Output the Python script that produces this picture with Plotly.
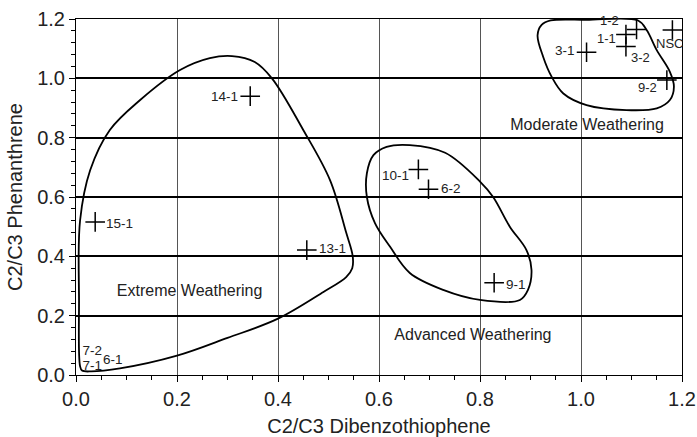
import plotly.graph_objects as go

# Sample points (C2/C3 dibenzothiophene, C2/C3 phenanthrene)
sample_labels = ["15-1", "13-1", "14-1", "10-1", "6-2", "9-1", "3-1", "1-1", "3-2", "1-2", "NSC", "9-2"]
sample_x = [0.038, 0.457, 0.345, 0.678, 0.698, 0.828, 1.011, 1.089, 1.089, 1.110, 1.181, 1.170]
sample_y = [0.516, 0.421, 0.940, 0.693, 0.626, 0.311, 1.088, 1.148, 1.107, 1.165, 1.163, 0.994]

# Samples clustered at the origin (labels only)
origin_labels = ["7-2", "7-1", "6-1"]
origin_x = [0.032, 0.032, 0.073]
origin_y = [0.078, 0.027, 0.047]

# Weathering envelopes
extreme_x = [0.008, 0.006, 0.008, 0.028, 0.067, 0.127, 0.206, 0.265, 0.309, 0.354, 0.388, 0.45, 0.503,
             0.535, 0.548, 0.547, 0.535, 0.49, 0.4, 0.3, 0.2, 0.087, 0.03, 0.012, 0.008]
extreme_y = [0.03, 0.25, 0.52, 0.69, 0.826, 0.927, 1.028, 1.068, 1.075, 1.055, 1.0, 0.826, 0.657,
             0.48, 0.40, 0.36, 0.33, 0.28, 0.19, 0.125, 0.065, 0.022, 0.012, 0.015, 0.03]

advanced_x = [0.615, 0.661, 0.731, 0.8, 0.826, 0.859, 0.892, 0.902, 0.895, 0.879, 0.8, 0.727, 0.661,
              0.622, 0.592, 0.576, 0.576, 0.589, 0.615]
advanced_y = [0.769, 0.775, 0.749, 0.652, 0.6, 0.5, 0.421, 0.354, 0.287, 0.253, 0.253, 0.287, 0.344,
              0.432, 0.512, 0.6, 0.68, 0.741, 0.769]

moderate_x = [0.922, 0.94, 1.011, 1.113, 1.13, 1.15, 1.176, 1.184, 1.176, 1.15, 1.09, 1.011, 0.965,
              0.942, 0.925, 0.914, 0.922]
moderate_y = [1.18, 1.195, 1.197, 1.195, 1.163, 1.095, 1.022, 0.972, 0.927, 0.899, 0.893, 0.91, 0.949,
              1.005, 1.073, 1.145, 1.18]

region_labels = ["Moderate Weathering", "Extreme Weathering", "Advanced Weathering"]
region_x = [1.012, 0.225, 0.786]
region_y = [0.839, 0.28, 0.131]

FONT = "Liberation Sans, Arial, Helvetica, sans-serif"
TXT = "#222"

# label placement (style): anchor and pixel offsets from each point
lab_anchor = ["left", "left", "right", "right", "left", "left", "right", "right", "left", "right", "center", "right"]
lab_dx = [9, 10, -10, -7, 11, 10, -10, -8, 3, -16, -3, -8]
lab_dy = [-2, 2, 0, -6, 1, -2, 2, -4, -11, 9, -14, -7]
lab_size = [13.5, 13.5, 13.5, 13.5, 13.5, 13.5, 13.5, 13, 13, 13, 13, 13]

fig = go.Figure()

for ex, ey in [(extreme_x, extreme_y), (advanced_x, advanced_y), (moderate_x, moderate_y)]:
    fig.add_trace(go.Scatter(x=ex, y=ey, mode="lines",
                             line=dict(color="black", width=1.8, shape="spline", smoothing=1.0),
                             hoverinfo="skip", showlegend=False))

fig.add_trace(go.Scatter(
    x=sample_x, y=sample_y, mode="markers",
    marker=dict(symbol="cross-thin", size=14, line=dict(color="black", width=1.5), color="black"),
    showlegend=False))

for lab, x, y, a, dx, dy, s in zip(sample_labels, sample_x, sample_y, lab_anchor, lab_dx, lab_dy, lab_size):
    fig.add_annotation(x=x, y=y, text=lab, showarrow=False, xanchor=a, yanchor="middle",
                       xshift=dx, yshift=dy, font=dict(family=FONT, size=s, color=TXT))

fig.add_trace(go.Scatter(
    x=origin_x, y=origin_y, mode="text", text=origin_labels,
    textfont=dict(family=FONT, size=13.5, color=TXT), showlegend=False))

fig.add_trace(go.Scatter(
    x=region_x, y=region_y, mode="text", text=region_labels,
    textfont=dict(family=FONT, size=16, color=TXT), showlegend=False))

fig.update_layout(
    width=697, height=437,
    margin=dict(l=76, r=15, t=19, b=62),
    paper_bgcolor="white", plot_bgcolor="white",
    font=dict(family=FONT, color=TXT),
    showlegend=False,
)

fig.update_xaxes(
    range=[0, 1.2], tick0=0, dtick=0.2, tickformat=".1f",
    showgrid=True, gridcolor="#555", gridwidth=1,
    zeroline=False, showline=True, linecolor="black", linewidth=1, mirror=True,
    ticks="outside", ticklen=6, tickwidth=1.2, tickcolor="black",
    minor=dict(dtick=0.05, ticks="outside", ticklen=4, tickwidth=1, tickcolor="black", showgrid=False),
    tickfont=dict(size=20, family=FONT, color=TXT),
    title=dict(text="C2/C3 Dibenzothiophene", font=dict(size=20, family=FONT, color=TXT), standoff=9),
    automargin=False,
)
fig.update_yaxes(
    range=[0, 1.2], tick0=0, dtick=0.2, tickformat=".1f",
    showgrid=True, gridcolor="black", gridwidth=2,
    zeroline=False, showline=True, linecolor="black", linewidth=1, mirror=True,
    ticks="outside", ticklen=6, tickwidth=1.2, tickcolor="black",
    minor=dict(dtick=0.04, ticks="outside", ticklen=4, tickwidth=1, tickcolor="black", showgrid=False),
    tickfont=dict(size=20, family=FONT, color=TXT),
    title=dict(text="C2/C3 Phenanthrene", font=dict(size=20, family=FONT, color=TXT), standoff=9),
    automargin=False,
)

fig.write_html("out.html")
